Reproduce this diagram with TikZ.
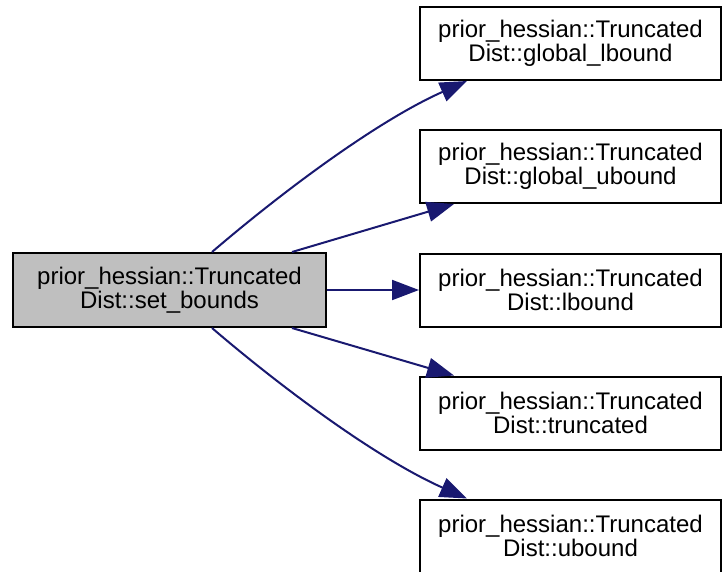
\documentclass[tikz,border=0pt]{standalone}
\usepackage{fontspec}
\setmainfont{Liberation Sans}
\usetikzlibrary{arrows.meta,calc}
\definecolor{edgeblue}{HTML}{191970}
\definecolor{boxgray}{HTML}{BFBFBF}
\begin{document}
\begin{tikzpicture}[x=1pt,y=-1pt,
  fnbox/.style={draw=black,line width=2pt,align=center,inner sep=0pt,
    font=\fontsize{24}{23.5}\selectfont},
  leftbox/.style={fnbox,fill=boxgray,minimum width=313pt,minimum height=74pt},
  rightbox/.style={fnbox,fill=white,minimum width=301pt,minimum height=73pt},
  call/.style={draw=edgeblue,line width=2pt,-{Triangle[length=27pt,width=20pt]},color=edgeblue}]
\useasboundingbox (0,0) rectangle (722,571);
\node[leftbox] (L) at (169.5,290) {prior\_hessian::Truncated\\Dist::set\_bounds};
\node[rightbox] (R1) at (570.5,43.5) {prior\_hessian::Truncated\\Dist::global\_lbound};
\node[rightbox] (R2) at (570.5,166.5) {prior\_hessian::Truncated\\Dist::global\_ubound};
\node[rightbox] (R3) at (570.5,290) {prior\_hessian::Truncated\\Dist::lbound};
\node[rightbox] (R4) at (570.5,413) {prior\_hessian::Truncated\\Dist::truncated};
\node[rightbox] (R5) at (570.5,536) {prior\_hessian::Truncated\\Dist::ubound};
\coordinate (s1) at ($(L.north west)+(200,0)$);
\coordinate (s2) at ($(L.north west)+(280,0)$);
\coordinate (s4) at ($(L.south west)+(280,0)$);
\coordinate (s5) at ($(L.south west)+(200,0)$);
\coordinate (e1) at ($(R1.south west)+(48,0)$);
\coordinate (e2) at ($(R2.south west)+(35,0)$);
\coordinate (e4) at ($(R4.north west)+(35,0)$);
\coordinate (e5) at ($(R5.north west)+(48,0)$);
\draw[call] (s1) .. controls ($(s1)+(70,-60)$) and ($(e1)+(-90,40)$) .. (e1);
\draw[call] (s2) -- (e2);
\draw[call] (L.east) -- (R3.west);
\draw[call] (s4) -- (e4);
\draw[call] (s5) .. controls ($(s5)+(70,60)$) and ($(e5)+(-90,-40)$) .. (e5);
\end{tikzpicture}
\end{document}
